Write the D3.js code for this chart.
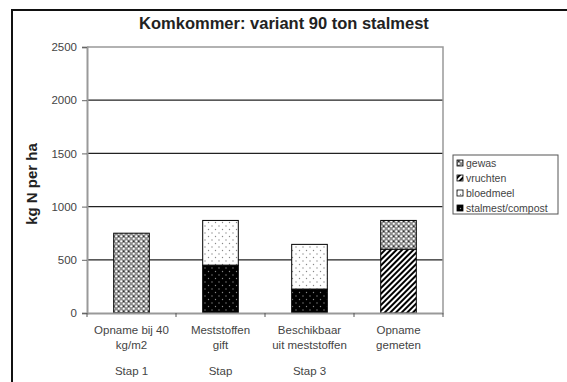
<!DOCTYPE html>
<html>
<head>
<meta charset="utf-8">
<script src="https://cdn.jsdelivr.net/npm/d3@7"></script>
<style>
  html, body { margin: 0; padding: 0; background: #fff; }
  svg { display: block; font-family: "Liberation Sans", Arial, sans-serif; }
</style>
</head>
<body>
<svg id="chart" width="567" height="382"></svg>
<script>
// Nitrogen balance for cucumber, 90 t farmyard manure variant (kg N per ha)
const categories = ["Opname bij 40\nkg/m2", "Meststoffen\ngift", "Beschikbaar\nuit meststoffen", "Opname\ngemeten"];
const stepLabels = ["Stap 1", "Stap", "Stap 3", ""];
const seriesNames = ["stalmest/compost", "bloedmeel", "vruchten", "gewas"];
const stalmest  = [0, 450, 225, 0];
const bloedmeel = [0, 420, 420, 0];
const vruchten  = [0, 0, 0, 600];
const gewas     = [750, 0, 0, 270];
const yTicks = [0, 500, 1000, 1500, 2000, 2500];
const titleText = "Komkommer: variant 90 ton stalmest";
const yLabel = "kg N per ha";

const seriesValues = { "stalmest/compost": stalmest, "bloedmeel": bloedmeel, "vruchten": vruchten, "gewas": gewas };
const rows = categories.map((c, i) => {
  const r = { cat: c };
  seriesNames.forEach(s => r[s] = seriesValues[s][i]);
  return r;
});

const svg = d3.select("#chart");
const plot = { left: 87, right: 443, top: 47, bottom: 313 };

// fill patterns for each series
const defs = svg.append("defs");
const pGewas = defs.append("pattern").attr("id", "pat-gewas")
  .attr("patternUnits", "userSpaceOnUse").attr("width", 5).attr("height", 5);
pGewas.append("rect").attr("width", 5).attr("height", 5).attr("fill", "#8c8c8c");
pGewas.append("circle").attr("cx", 1.25).attr("cy", 1.25).attr("r", 1.1).attr("fill", "#fff");
pGewas.append("circle").attr("cx", 3.75).attr("cy", 3.75).attr("r", 1.1).attr("fill", "#fff");
pGewas.append("circle").attr("cx", 3.75).attr("cy", 1.25).attr("r", 0.7).attr("fill", "#111");

const pVr = defs.append("pattern").attr("id", "pat-vruchten")
  .attr("patternUnits", "userSpaceOnUse").attr("width", 4).attr("height", 4)
  .attr("patternTransform", "rotate(45)");
pVr.append("rect").attr("width", 4).attr("height", 4).attr("fill", "#fff");
pVr.append("rect").attr("width", 2).attr("height", 4).attr("fill", "#000");

const pBl = defs.append("pattern").attr("id", "pat-bloedmeel")
  .attr("patternUnits", "userSpaceOnUse").attr("width", 7).attr("height", 7);
pBl.append("rect").attr("width", 7).attr("height", 7).attr("fill", "#fff");
pBl.append("circle").attr("cx", 2).attr("cy", 2).attr("r", 0.7).attr("fill", "#888");
pBl.append("circle").attr("cx", 5.5).attr("cy", 5.5).attr("r", 0.7).attr("fill", "#888");

const pSt = defs.append("pattern").attr("id", "pat-stalmest")
  .attr("patternUnits", "userSpaceOnUse").attr("width", 7).attr("height", 7);
pSt.append("rect").attr("width", 7).attr("height", 7).attr("fill", "#000");
pSt.append("circle").attr("cx", 2).attr("cy", 2).attr("r", 0.7).attr("fill", "#888");
pSt.append("circle").attr("cx", 5.5).attr("cy", 5.5).attr("r", 0.7).attr("fill", "#888");

const fills = {
  "gewas": "url(#pat-gewas)",
  "vruchten": "url(#pat-vruchten)",
  "bloedmeel": "url(#pat-bloedmeel)",
  "stalmest/compost": "url(#pat-stalmest)"
};

// outer frame
svg.append("rect").attr("x", 12).attr("y", 10).attr("width", 620).attr("height", 420)
  .attr("fill", "none").attr("stroke", "#111").attr("stroke-width", 2);

// title
svg.append("text").attr("x", 284).attr("y", 29).attr("text-anchor", "middle")
  .attr("font-weight", "bold").attr("font-size", 16.5).attr("fill", "#222").text(titleText);

const x = d3.scaleBand().domain(categories).range([plot.left, plot.right]).padding(0);
const y = d3.scaleLinear().domain([0, 2500]).range([plot.bottom, plot.top]);

// horizontal gridlines
svg.append("g").selectAll("line").data(yTicks.filter(t => t > 0 && t < 2500)).join("line")
  .attr("x1", plot.left).attr("x2", plot.right)
  .attr("y1", d => y(d)).attr("y2", d => y(d))
  .attr("stroke", "#222").attr("stroke-width", 1.3);

// plot area border (top and right)
svg.append("path")
  .attr("d", `M${plot.left},${y(2500)}H${plot.right}V${plot.bottom}`)
  .attr("fill", "none").attr("stroke", "#999").attr("stroke-width", 1.5);

// stacked bars
const stack = d3.stack().keys(seriesNames)(rows);
const barW = x.bandwidth() * 0.4;
svg.append("g").selectAll("g").data(stack).join("g")
  .attr("fill", d => fills[d.key])
  .selectAll("rect").data(d => d.filter(p => p[1] - p[0] > 0)).join("rect")
  .attr("x", d => x(d.data.cat) + (x.bandwidth() - barW) / 2)
  .attr("width", barW)
  .attr("y", d => y(d[1]))
  .attr("height", d => y(d[0]) - y(d[1]))
  .attr("stroke", "#000").attr("stroke-width", 1);

// y axis
const yAxis = svg.append("g").attr("transform", `translate(${plot.left},0)`)
  .call(d3.axisLeft(y).tickValues(yTicks).tickSize(5).tickPadding(5).tickFormat(d3.format("d")));
yAxis.select(".domain").attr("stroke", "#999").attr("stroke-width", 2);
yAxis.selectAll(".tick line").attr("stroke", "#666");
yAxis.selectAll(".tick text").attr("font-size", 11.5).attr("fill", "#444")
  .attr("font-family", "Liberation Sans, Arial, sans-serif");

// x axis
const xAxis = svg.append("g").attr("transform", `translate(0,${plot.bottom})`)
  .call(d3.axisBottom(x).tickSize(0).tickFormat(""));
xAxis.select(".domain").attr("stroke", "#999").attr("stroke-width", 2);
const boundaries = x.domain().map(c => x(c)).concat([plot.right]);
svg.append("g").selectAll("line").data(boundaries).join("line")
  .attr("x1", d => d).attr("x2", d => d)
  .attr("y1", plot.bottom).attr("y2", plot.bottom + 4)
  .attr("stroke", "#555").attr("stroke-width", 1);

// category labels
const catG = svg.append("g").attr("font-size", 11.5).attr("fill", "#444").attr("text-anchor", "middle");
categories.forEach((c, i) => {
  const cx = x(c) + x.bandwidth() / 2;
  c.split("\n").forEach((line, j) => {
    catG.append("text").attr("x", cx).attr("y", 334 + j * 15).text(line);
  });
  if (stepLabels[i]) catG.append("text").attr("x", cx).attr("y", 375).text(stepLabels[i]);
});

// y axis title
svg.append("text").attr("transform", "translate(37,184) rotate(-90)")
  .attr("text-anchor", "middle").attr("font-weight", "bold").attr("font-size", 15)
  .attr("fill", "#222").text(yLabel);

// legend
const legendOrder = seriesNames.slice().reverse();
const lg = svg.append("g");
lg.append("rect").attr("x", 453).attr("y", 155).attr("width", 105).attr("height", 59)
  .attr("fill", "#fff").attr("stroke", "#555").attr("stroke-width", 1);
legendOrder.forEach((s, i) => {
  const cy = 163 + i * 15;
  lg.append("rect").attr("x", 457).attr("y", cy - 3).attr("width", 6).attr("height", 6)
    .attr("fill", fills[s]).attr("stroke", "#000").attr("stroke-width", 0.8);
  lg.append("text").attr("x", 466).attr("y", cy + 3.5).attr("font-size", 10.5)
    .attr("fill", "#444").text(s);
});
</script>
</body>
</html>
